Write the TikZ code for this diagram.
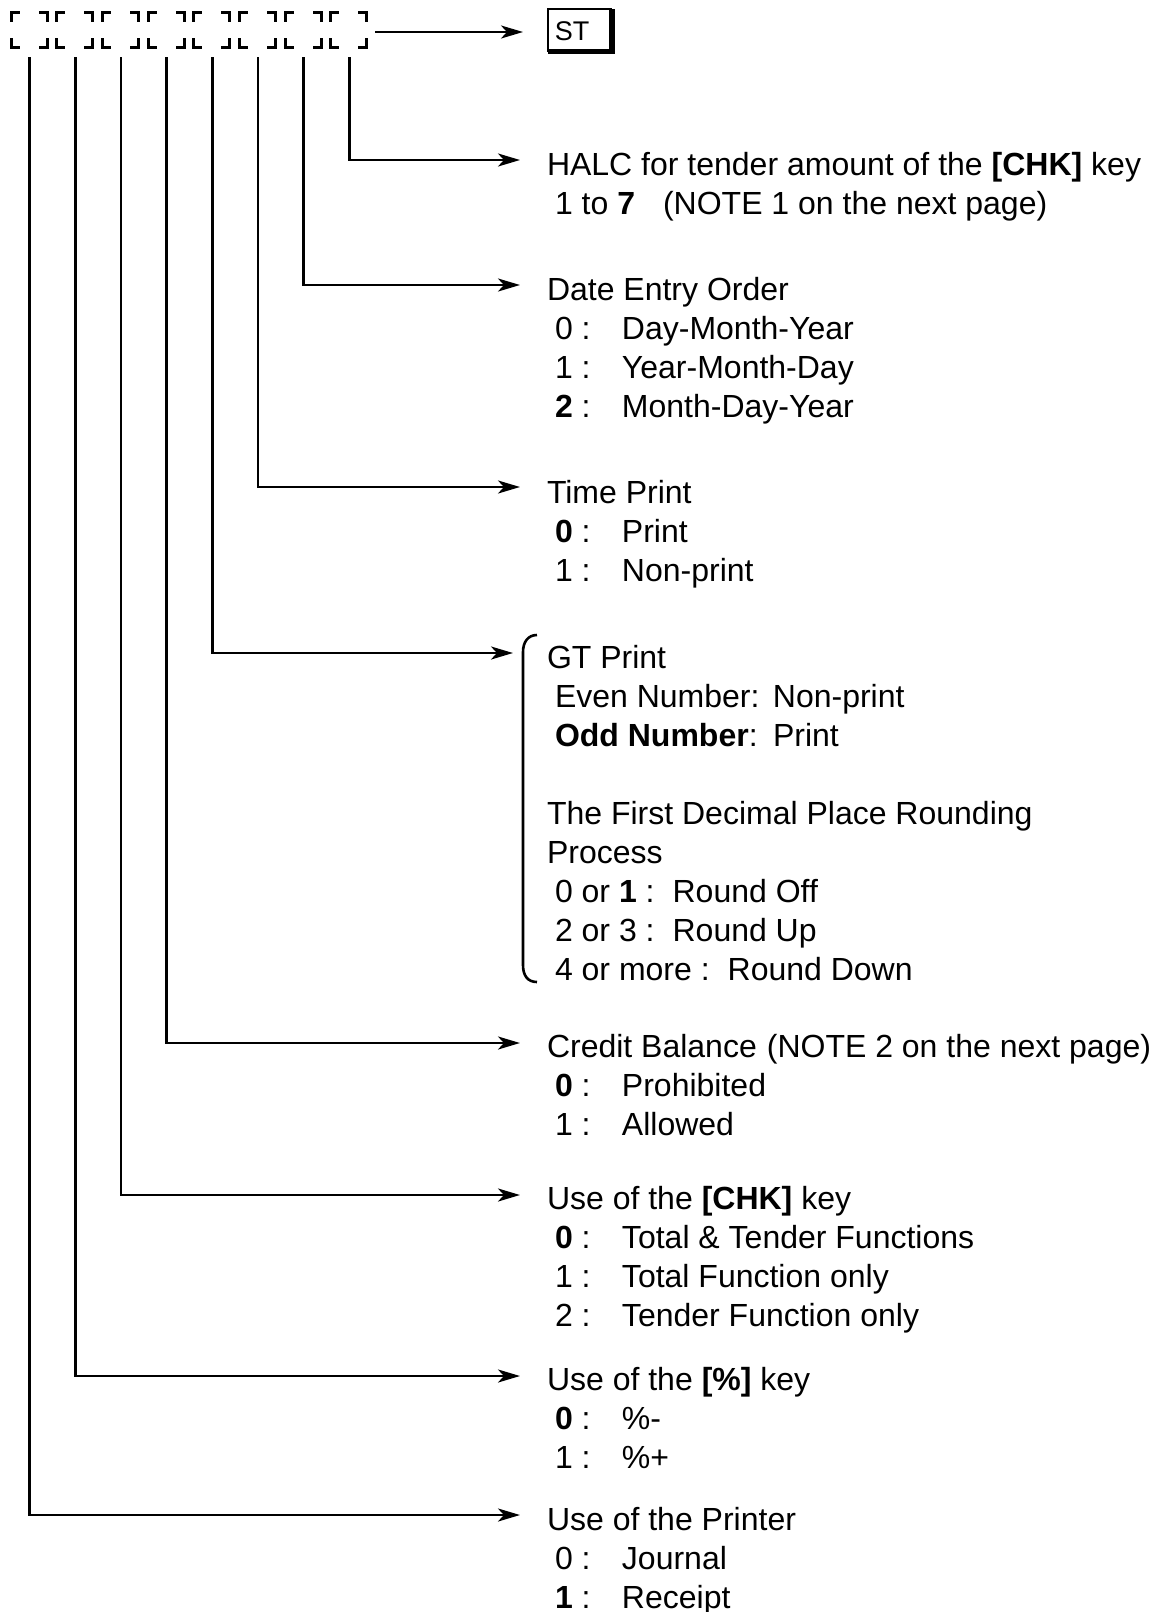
\documentclass[tikz,border=0pt]{standalone}
\usepackage{fontspec}
\setmainfont{Liberation Sans}
\usetikzlibrary{arrows.meta}
\newcommand\optline[2]{\hspace*{8pt}\makebox[67pt][l]{#1}#2}
\begin{document}
\begin{tikzpicture}[x=1pt,y=-1pt,
  conn/.style={line width=2.6pt},
  arr/.style={line width=2.6pt,-{Stealth[length=22pt,width=13pt,inset=6pt]}},
  cornermark/.style={line width=3pt,line join=miter,line cap=rect},
  grp/.style={anchor=base west,inner sep=0pt,outer sep=0pt,font=\fontsize{32}{39}\selectfont},
  digitbox/.style={minimum width=36pt,minimum height=35pt,inner sep=0pt,outer sep=0pt}
  ]
\useasboundingbox (0,0) rectangle (1158,1612);

% digit boxes
\foreach \i in {1,...,8}{
  \pgfmathsetmacro\lx{11+45.7*(\i-1)}
  \node[digitbox,anchor=north west] (d\i) at (\lx,12) {};
  \draw[cornermark] ([yshift=-8pt]d\i.north west) -- (d\i.north west) -- ([xshift=7pt]d\i.north west);
  \draw[cornermark] ([xshift=-7pt]d\i.north east) -- (d\i.north east) -- ([yshift=-8pt]d\i.north east);
  \draw[cornermark] ([yshift=8pt]d\i.south west) -- (d\i.south west) -- ([xshift=7pt]d\i.south west);
  \draw[cornermark] ([xshift=-7pt]d\i.south east) -- (d\i.south east) -- ([yshift=8pt]d\i.south east);
  \coordinate (b\i) at (\lx+18.5,57);
}

% ST box
\node[draw,line width=2.4pt,minimum width=63pt,minimum height=42pt,inner sep=0pt,anchor=north west] (st) at (547,8) {};
\fill (609,9) rectangle (615,54);
\fill (548,49) rectangle (615,54);
\node[font=\fontsize{27}{32}\selectfont,inner sep=0pt] (sttext) at (572,31) {ST};
\coordinate (stfrom) at (375,32);
\coordinate (sttip) at (523,32);
\draw[arr] (stfrom) -- (sttip);

% arrow tips
\coordinate (t8) at (520,160);
\coordinate (t7) at (520,285);
\coordinate (t6) at (520,487);
\coordinate (t5) at (513,653);
\coordinate (t4) at (520,1043);
\coordinate (t3) at (520,1195);
\coordinate (t2) at (520,1376);
\coordinate (t1) at (520,1515);

\foreach \i in {1,...,8}{\draw[arr] (b\i) |- (t\i);}

% texts
\node[grp] (halc) at (547,175) {\begin{tabular}[t]{@{}l@{}}
HALC for tender amount of the \textbf{[CHK]} key\\
\hspace*{8pt}1 to \textbf{7}\hspace{28pt}(NOTE 1 on the next page)
\end{tabular}};

\node[grp] (date) at (547,300) {\begin{tabular}[t]{@{}l@{}}
Date Entry Order\\
\optline{0 :}{Day-Month-Year}\\
\optline{1 :}{Year-Month-Day}\\
\optline{\textbf{2} :}{Month-Day-Year}
\end{tabular}};

\node[grp] (time) at (547,503) {\begin{tabular}[t]{@{}l@{}}
Time Print\\
\optline{\textbf{0} :}{Print}\\
\optline{1 :}{Non-print}
\end{tabular}};

\draw[conn] (537,635) .. controls (528,635) and (523,642) .. (523,652) -- (523,965) .. controls (523,976) and (528,982) .. (537,982);

\node[grp] (gt) at (547,668) {\begin{tabular}[t]{@{}l@{}}
GT Print\\
\hspace*{8pt}\makebox[218pt][l]{Even Number:}Non-print\\
\hspace*{8pt}\makebox[218pt][l]{\textbf{Odd Number}:}Print\\
\\
The First Decimal Place Rounding\\
Process\\
\hspace*{8pt}0 or \textbf{1} :\hspace{18pt}Round Off\\
\hspace*{8pt}2 or 3 :\hspace{18pt}Round Up\\
\hspace*{8pt}4 or more :\hspace{18pt}Round Down
\end{tabular}};

\node[grp] (credit) at (547,1057) {\begin{tabular}[t]{@{}l@{}}
Credit Balance\hspace{10pt}(NOTE 2 on the next page)\\
\optline{\textbf{0} :}{Prohibited}\\
\optline{1 :}{Allowed}
\end{tabular}};

\node[grp] (chk) at (547,1209) {\begin{tabular}[t]{@{}l@{}}
Use of the \textbf{[CHK]} key\\
\optline{\textbf{0} :}{Total \& Tender Functions}\\
\optline{1 :}{Total Function only}\\
\optline{2 :}{Tender Function only}
\end{tabular}};

\node[grp] (pct) at (547,1390) {\begin{tabular}[t]{@{}l@{}}
Use of the \textbf{[\%]} key\\
\optline{\textbf{0} :}{\%-}\\
\optline{1 :}{\%+}
\end{tabular}};

\node[grp] (prn) at (547,1530) {\begin{tabular}[t]{@{}l@{}}
Use of the Printer\\
\optline{0 :}{Journal}\\
\optline{\textbf{1} :}{Receipt}
\end{tabular}};
\end{tikzpicture}
\end{document}
